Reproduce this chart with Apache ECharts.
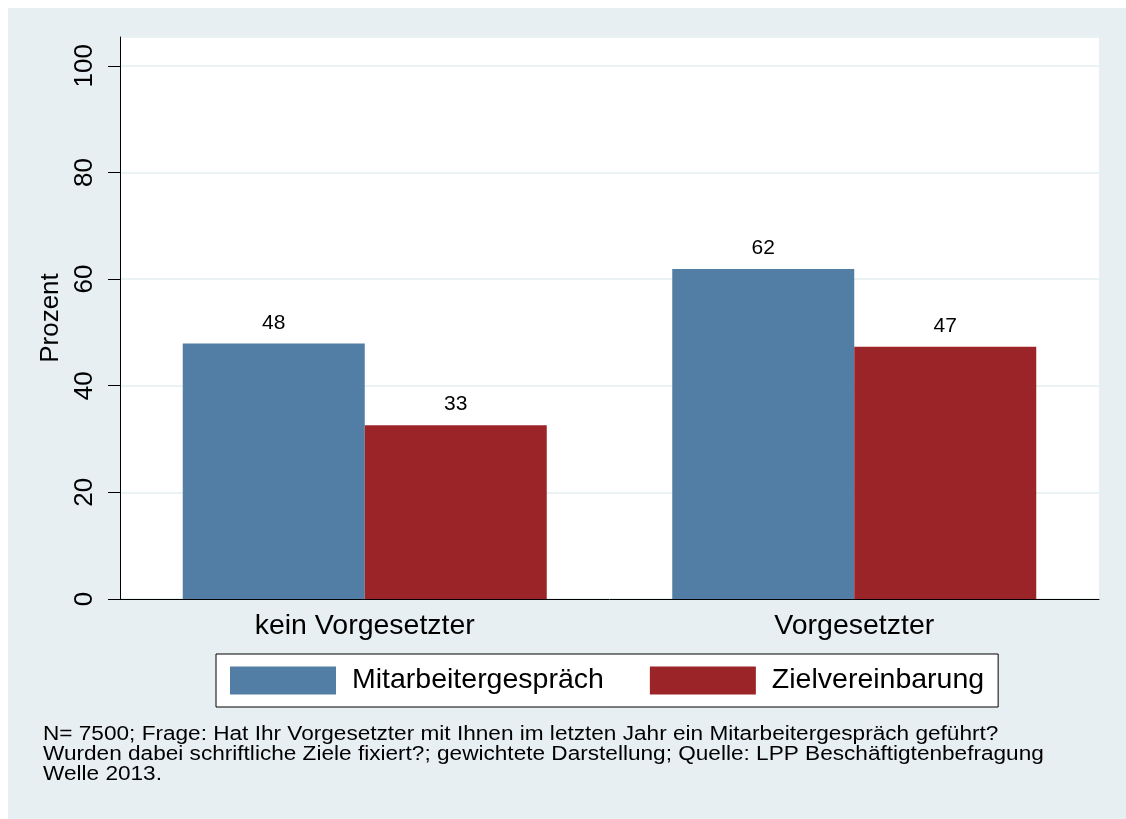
<!DOCTYPE html>
<html>
<head>
<meta charset="utf-8">
<script src="https://cdn.jsdelivr.net/npm/echarts@6/dist/echarts.min.js"></script>
<style>
  html, body { margin: 0; padding: 0; background: #ffffff; }
  #main { width: 1126px; height: 819px; }
</style>
</head>
<body>
<div id="main"></div>
<script>
// Daten
var categories = ['kein Vorgesetzter', 'Vorgesetzter'];
var mitarbeitergespraech = [47.9, 61.9];
var zielvereinbarung = [32.6, 47.3];
var yTicks = [0, 20, 40, 60, 80, 100];
var footnote = [
  'N= 7500; Frage: Hat Ihr Vorgesetzter mit Ihnen im letzten Jahr ein Mitarbeitergespräch geführt?',
  'Wurden dabei schriftliche Ziele fixiert?; gewichtete Darstellung; Quelle: LPP Beschäftigtenbefragung',
  'Welle 2013.'
];

var font = 'Liberation Sans, Arial, sans-serif';
var myChart = echarts.init(document.getElementById('main'));

myChart.setOption({
  backgroundColor: '#ffffff',
  animation: false,
  graphic: [
    { type: 'rect', z: -10, shape: { x: 8, y: 8, width: 1118, height: 811 }, style: { fill: '#e8eff2' } },
    { type: 'rect', z: -9, shape: { x: 120, y: 37, width: 979, height: 562 }, style: { fill: '#ffffff' } },
    {
      type: 'text', x: 43, y: 724, scaleX: 1.13,
      style: { text: footnote.join('\n'), font: '20px ' + font, fill: '#000', lineHeight: 20 }
    }
  ],
  grid: { left: 120, right: 27, top: 37, bottom: 220 },
  legend: {
    left: 216, top: 654,
    padding: [12, 14],
    backgroundColor: '#ffffff',
    borderColor: '#000000', borderWidth: 1,
    itemWidth: 106, itemHeight: 28, itemGap: 46,
    icon: 'rect',
    textStyle: { fontSize: 28.5, fontFamily: font, color: '#000', padding: [0, 0, 0, 11] },
    data: ['Mitarbeitergespräch', 'Zielvereinbarung']
  },
  xAxis: {
    type: 'category',
    data: categories,
    axisLine: { lineStyle: { color: '#000', width: 1 } },
    axisTick: { show: false },
    axisLabel: { fontSize: 28.5, fontFamily: font, color: '#000', margin: 13 }
  },
  yAxis: {
    type: 'value',
    min: 0, max: 105.4, interval: 20,
    name: 'Prozent',
    nameLocation: 'middle',
    nameRotate: 90,
    nameGap: 46,
    nameTextStyle: { fontSize: 26, fontFamily: font, color: '#000' },
    axisLine: { show: true, lineStyle: { color: '#000', width: 1 } },
    axisTick: { show: true, length: 12, lineStyle: { color: '#000' } },
    axisLabel: {
      rotate: 90, fontSize: 26, fontFamily: font, color: '#000', margin: 22,
      showMaxLabel: false,
      formatter: function (v) { return yTicks.indexOf(v) >= 0 ? String(v) : ''; }
    },
    splitLine: { show: true, lineStyle: { color: '#eaf2f3', width: 2 } }
  },
  series: [
    {
      name: 'Mitarbeitergespräch', type: 'bar', data: mitarbeitergespraech,
      barWidth: 182, barGap: '0%',
      itemStyle: { color: '#527da4' },
      label: { show: true, position: 'top', distance: 10, fontSize: 21, fontFamily: font, color: '#000',
        formatter: function (p) { return Math.round(p.value); } }
    },
    {
      name: 'Zielvereinbarung', type: 'bar', data: zielvereinbarung,
      barWidth: 182, barGap: '0%',
      itemStyle: { color: '#9b2428' },
      label: { show: true, position: 'top', distance: 10, fontSize: 21, fontFamily: font, color: '#000',
        formatter: function (p) { return Math.round(p.value); } }
    }
  ]
});
</script>
</body>
</html>
